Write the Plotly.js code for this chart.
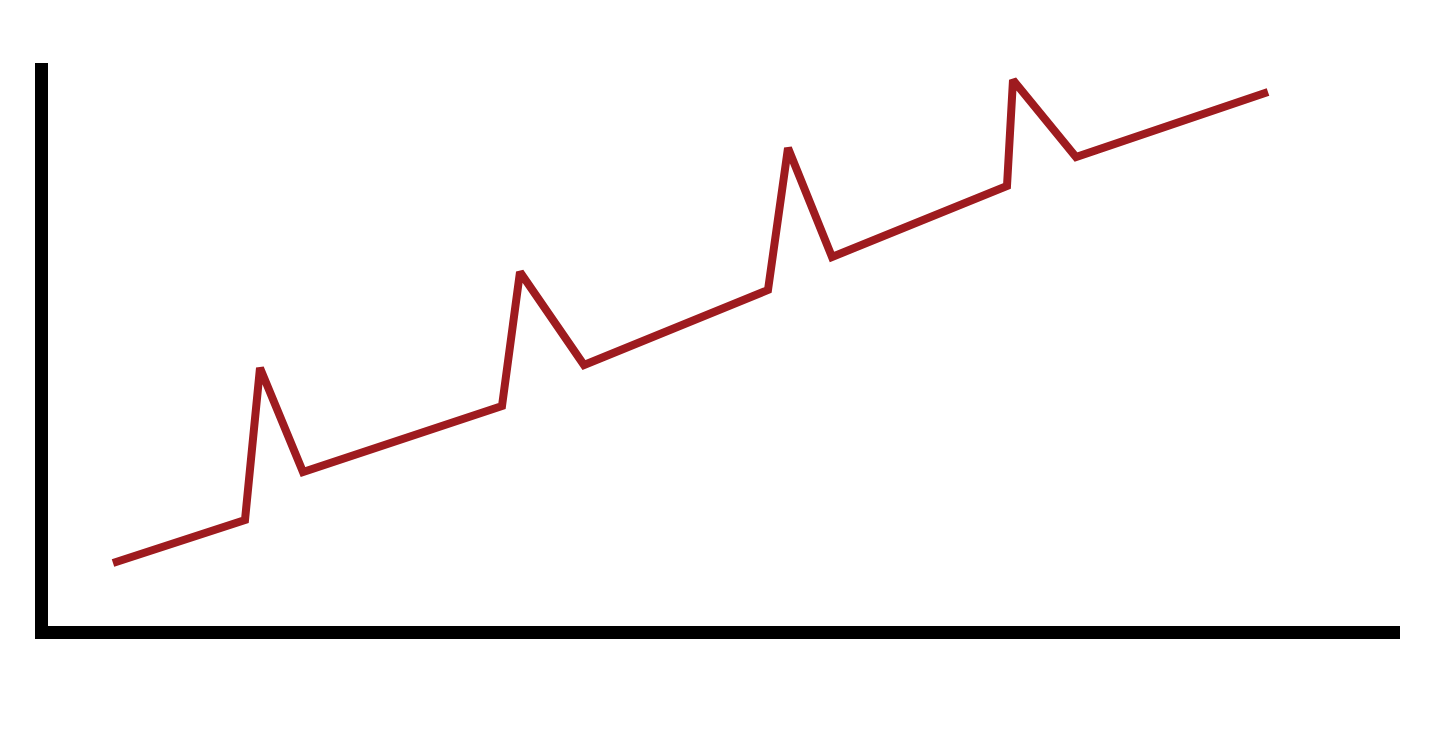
<!DOCTYPE html>
<html>
<head>
<meta charset="utf-8">
<script src="https://cdn.plot.ly/plotly-3.0.1.min.js"></script>
<style>html,body{margin:0;padding:0;background:#fff;}#chart{width:1440px;height:743px;}</style>
</head>
<body>
<div id="chart"></div>
<script>
const xValues = [65, 197, 212, 255, 454, 472, 536, 720, 740, 784, 959, 965, 1028, 1220];
const yValues = [63, 106, 258, 154, 220, 354, 261, 336, 478, 369, 440, 546, 469, 534];

const trace = {
  x: xValues,
  y: yValues,
  type: 'scatter',
  mode: 'lines',
  line: {color: '#9e1b1f', width: 8},
  hoverinfo: 'skip'
};

const layout = {
  width: 1440,
  height: 743,
  margin: {l: 48, r: 40, t: 63, b: 117},
  paper_bgcolor: '#ffffff',
  plot_bgcolor: '#ffffff',
  showlegend: false,
  xaxis: {
    range: [0, 1352],
    showgrid: false, zeroline: false, showticklabels: false, ticks: '',
    showline: true, linecolor: '#000000', linewidth: 13, fixedrange: true
  },
  yaxis: {
    range: [0, 563],
    showgrid: false, zeroline: false, showticklabels: false, ticks: '',
    showline: true, linecolor: '#000000', linewidth: 13, fixedrange: true
  }
};

Plotly.newPlot('chart', [trace], layout, {displayModeBar: false, staticPlot: true});
</script>
</body>
</html>
